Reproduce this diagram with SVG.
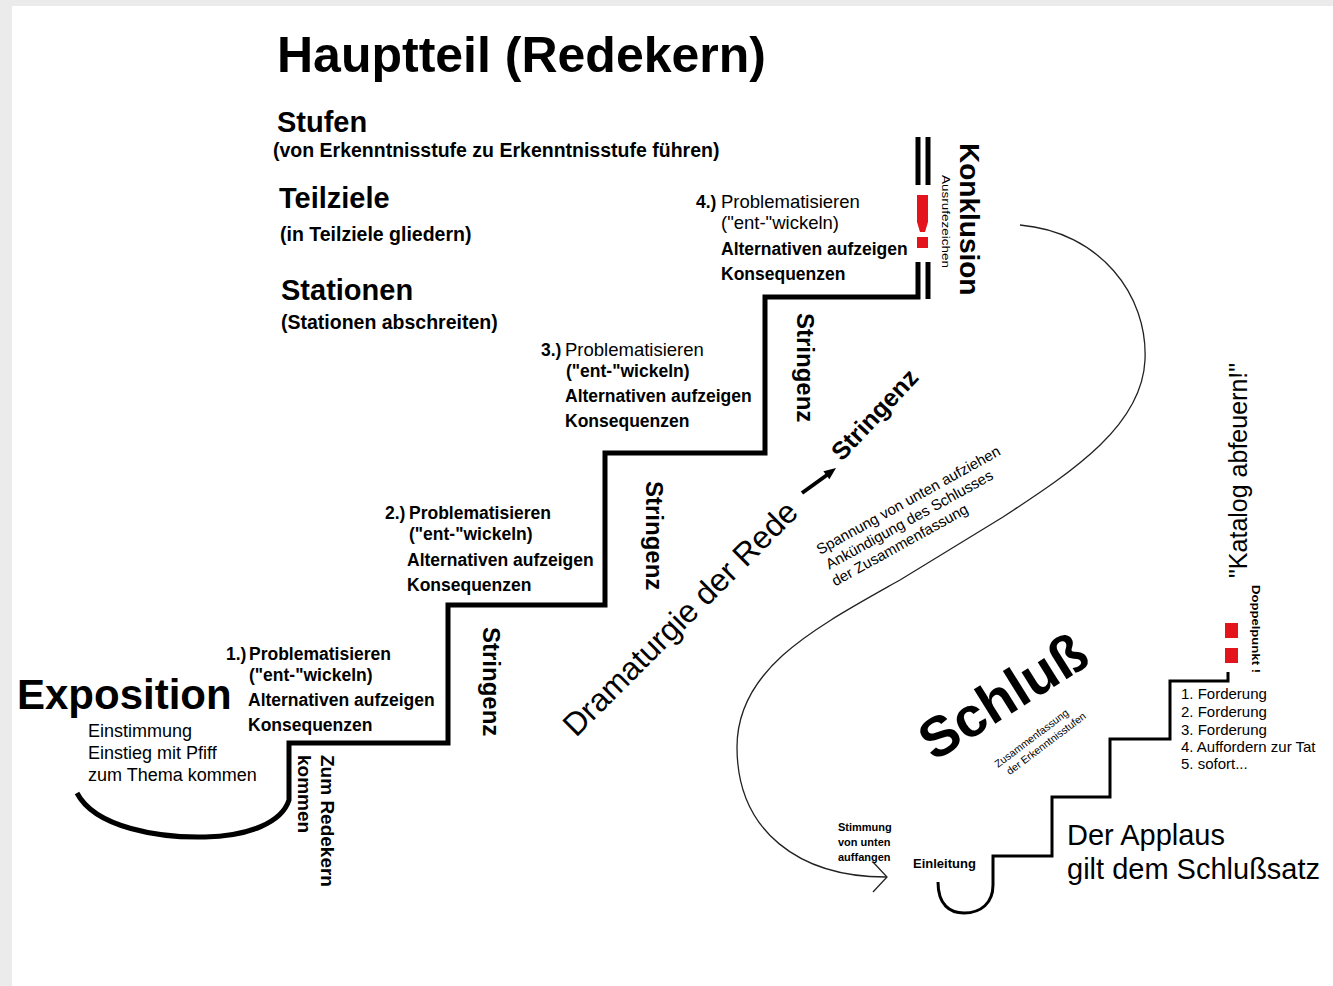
<svg xmlns="http://www.w3.org/2000/svg" width="1333" height="986" viewBox="0 0 1333 986">
<style>
text{font-family:"Liberation Sans",Arial,Helvetica,sans-serif;fill:#000}
.b{font-weight:bold}
.h1{font-size:50px;font-weight:bold}
.h2{font-size:29px;font-weight:bold}
.sub{font-size:19.5px;font-weight:bold}
.pr{font-size:17.5px;font-weight:bold}
.prn{font-size:18.5px;font-weight:normal}
.vs{font-size:24px;font-weight:bold}
.stair{fill:none;stroke:#000;stroke-width:5;stroke-linejoin:miter}
.stair2{fill:none;stroke:#000;stroke-width:3;stroke-linejoin:miter}
.thin{fill:none;stroke:#222;stroke-width:1.3}
.red{fill:#e3141c}
</style>
<rect x="0" y="0" width="1333" height="986" fill="#ebebeb"/>
<rect x="12" y="6" width="1321" height="980" fill="#ffffff"/>

<g id="connectors">
  <path class="stair" d="M77,793 C95,828 160,838 205,837 C250,836 282,822 289,800 L289,743 L448,743 L448,605 L605,605 L605,453 L765,453 L765,297 L918,297 L918,262"/>
  <line class="stair" x1="928" y1="262" x2="928" y2="299" stroke-width="4"/>
  <line class="stair" x1="918" y1="137" x2="918" y2="185" stroke-width="4"/>
  <line class="stair" x1="928" y1="137" x2="928" y2="185" stroke-width="4"/>
  <path class="stair2" d="M938,882 C938,905 950,913 964,913 C981,913 993,903 993,885 L993,856 L1052,856 L1052,797 L1110,797 L1110,739 L1170,739 L1170,681 L1228,681 L1228,672"/>
  <path class="thin" d="M1020,225 C1100,232 1148,295 1145,360 C1142,425 1075,470 1003,517 L900,580 C815,628 737,668 737,747 C737,832 800,877 886,877"/>
  <polyline class="thin" points="873,862 887,877 873,892"/>
  <line x1="802" y1="493" x2="827" y2="475" stroke="#000" stroke-width="4"/>
  <polygon points="836,468 829.4,479.2 823.4,471.2" fill="#000"/>
</g>

<g id="title">
  <text class="h1" x="277" y="72">Hauptteil (Redekern)</text>
</g>
<g id="stufen">
  <text class="h2" x="277" y="132">Stufen</text>
  <text class="sub" x="273" y="157">(von Erkenntnisstufe zu Erkenntnisstufe führen)</text>
</g>
<g id="teilziele">
  <text class="h2" x="279" y="208">Teilziele</text>
  <text class="sub" x="280" y="241">(in Teilziele gliedern)</text>
</g>
<g id="stationen">
  <text class="h2" x="281" y="300">Stationen</text>
  <text class="sub" x="281" y="329">(Stationen abschreiten)</text>
</g>

<g id="step4">
  <text class="pr" x="696" y="208">4.)</text>
  <text class="prn" x="721" y="208">Problematisieren</text>
  <text class="prn" x="721" y="229">("ent-"wickeln)</text>
  <text class="pr" x="721" y="255">Alternativen aufzeigen</text>
  <text class="pr" x="721" y="280">Konsequenzen</text>
</g>
<g id="step3">
  <text class="pr" x="541" y="356">3.)</text>
  <text class="prn" x="565" y="356">Problematisieren</text>
  <text class="pr" x="566" y="377">("ent-"wickeln)</text>
  <text class="pr" x="565" y="402">Alternativen aufzeigen</text>
  <text class="pr" x="565" y="427">Konsequenzen</text>
</g>
<g id="step2">
  <text class="pr" x="385" y="519">2.)</text>
  <text class="pr" x="409" y="519">Problematisieren</text>
  <text class="pr" x="409" y="540">("ent-"wickeln)</text>
  <text class="pr" x="407" y="566">Alternativen aufzeigen</text>
  <text class="pr" x="407" y="591">Konsequenzen</text>
</g>
<g id="step1">
  <text class="pr" x="226" y="660">1.)</text>
  <text class="pr" x="249" y="660">Problematisieren</text>
  <text class="pr" x="249" y="681">("ent-"wickeln)</text>
  <text class="pr" x="248" y="706">Alternativen aufzeigen</text>
  <text class="pr" x="248" y="731">Konsequenzen</text>
</g>

<g id="exposition">
  <text class="b" x="17" y="709" font-size="42">Exposition</text>
  <text x="88" y="737" font-size="18">Einstimmung</text>
  <text x="88" y="759" font-size="18">Einstieg mit Pfiff</text>
  <text x="88" y="781" font-size="18">zum Thema kommen</text>
</g>
<g id="redekern">
  <text class="b" font-size="19" transform="translate(321,755) rotate(90)">Zum Redekern</text>
  <text class="b" font-size="19" transform="translate(298,755) rotate(90)">kommen</text>
</g>
<g id="stringenz1"><text class="vs" transform="translate(483,627) rotate(90)">Stringenz</text></g>
<g id="stringenz2"><text class="vs" transform="translate(646,481) rotate(90)">Stringenz</text></g>
<g id="stringenz3"><text class="vs" transform="translate(797,313) rotate(90)">Stringenz</text></g>

<g id="konklusion">
  <text class="b" font-size="28" transform="translate(960,143) rotate(90)">Konklusion</text>
  <text font-size="10" textLength="93" lengthAdjust="spacingAndGlyphs" transform="translate(942,175) rotate(90)">Ausrufezeichen</text>
  <polygon class="red" points="917,195 928,195 928,222 925,232 920,232 917,222"/>
  <rect class="red" x="917" y="237" width="11" height="11"/>
</g>

<g id="dramaturgie">
  <text font-size="32" transform="translate(576,738) rotate(-45)">Dramaturgie der Rede</text>
  <text class="b" font-size="25" transform="translate(842,462) rotate(-47)">Stringenz</text>
</g>

<g id="spannung" transform="translate(820,555) rotate(-29)">
  <text font-size="15" x="0" y="0">Spannung von unten aufziehen</text>
  <text font-size="15" x="1" y="17.5">Ankündigung des Schlusses</text>
  <text font-size="15" x="-2" y="35">der Zusammenfassung</text>
</g>

<g id="schluss">
  <text class="b" font-size="56" transform="translate(934,762) rotate(-32)">Schluß</text>
  <g transform="translate(998,768) rotate(-37)">
    <text font-size="10.5" x="0" y="0">Zusammenfassung</text>
    <text font-size="10.5" x="5" y="13">der Erkenntnisstufen</text>
  </g>
</g>

<g id="einleitung">
  <text class="b" font-size="11" x="838" y="831">Stimmung</text>
  <text class="b" font-size="11" x="838" y="846">von unten</text>
  <text class="b" font-size="11" x="838" y="861">auffangen</text>
  <text class="b" font-size="13" x="913" y="868">Einleitung</text>
</g>

<g id="katalog">
  <text font-size="25" transform="translate(1247,578) rotate(-90)">"Katalog abfeuern!"</text>
  <text class="b" font-size="11" textLength="88" lengthAdjust="spacingAndGlyphs" transform="translate(1252,585) rotate(90)">Doppelpunkt !</text>
  <rect class="red" x="1225" y="623" width="13" height="15"/>
  <rect class="red" x="1225" y="648" width="13" height="15"/>
</g>

<g id="forderungen">
  <text font-size="15" x="1181" y="699">1. Forderung</text>
  <text font-size="15" x="1181" y="717">2. Forderung</text>
  <text font-size="15" x="1181" y="735">3. Forderung</text>
  <text font-size="15" x="1181" y="752">4. Auffordern zur Tat</text>
  <text font-size="15" x="1181" y="769">5. sofort...</text>
</g>

<g id="applaus">
  <text font-size="29" x="1067" y="845">Der Applaus</text>
  <text font-size="29" x="1067" y="879">gilt dem Schlußsatz</text>
</g>
</svg>
